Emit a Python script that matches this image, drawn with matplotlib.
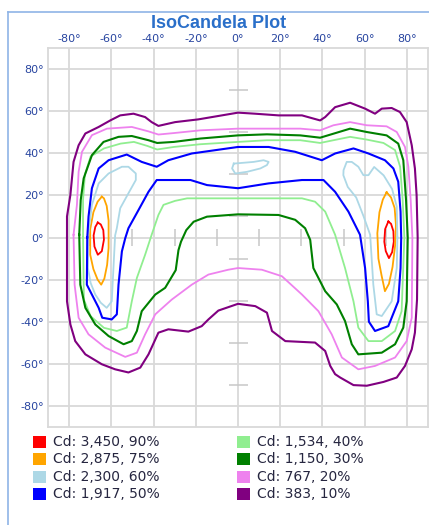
import numpy as np
import matplotlib
matplotlib.use("Agg")
import matplotlib.pyplot as plt
from matplotlib.patches import Rectangle
from matplotlib.lines import Line2D

# contour traces, (horizontal deg, vertical deg)
cd_3450_left = [(-66.4, 7.1), (-67.6, 5), (-68.4, 1), (-68, -4.3), (-66.4, -8.2), (-64.5, -6.5),
                (-63.5, -1), (-63.8, 3.5), (-65, 6.2)]
cd_3450_right = [(71.2, 7.6), (69.7, 4), (69.3, -2), (70, -6.5), (71.5, -9.8), (73, -7),
                 (73.8, -2), (73.6, 3), (72.5, 6.5)]

cd_2875_left = [(-64.5, 19.4), (-66.5, 17), (-68.5, 12), (-70, 4), (-70, -8.2), (-68.5, -15),
                (-66.5, -20), (-64.8, -22.4), (-63.3, -19.5), (-62, -13), (-61.3, -5), (-61.3, 8),
                (-62.2, 15), (-63.5, 18.6)]
cd_2875_right = [(70.4, 21.5), (68.6, 18), (67, 12), (66, 2), (66.5, -10), (68, -18), (69.6, -25.5),
                 (71.5, -22), (73.2, -14), (74.4, -4), (74.8, 6), (74.2, 14), (72.5, 19)]

cd_2300_left = [(-71.1, 0), (-69.2, 15.5), (-66, 25.7), (-61.3, 30.4), (-55, 33.6), (-51.9, 33.6),
                (-48.4, 30.4), (-48.4, 27.3), (-51.9, 21), (-55.8, 13.9), (-57.4, 4.4), (-58.2, 1),
                (-59, -14.5), (-59.8, -30.3), (-62.2, -33.4), (-65, -31), (-67.6, -27.1),
                (-69.8, -21.6), (-71.1, -14.5)]
cd_2300_mid = [(-2, 35.1), (-2.8, 32.8), (-1.3, 30.4), (4.3, 31.2), (10.6, 32.8), (13.7, 34.4),
               (14.5, 35.9), (12.1, 36.7), (7.4, 35.9), (2.7, 35.5)]
cd_2300_right = [(75.5, 0), (75.2, 14.7), (73, 23), (69, 29.5), (64.5, 33.5), (61.8, 29.6),
                 (59.4, 29.6), (57, 33.6), (53.9, 35.9), (51.5, 35.9), (50, 32), (49.9, 29.6),
                 (52, 24), (56, 19), (59.5, 10), (62.6, 1.3), (64.1, -22.4), (65.7, -36.5),
                 (68.1, -37.3), (72.8, -30.3), (75.2, -14.5)]

cd_1917 = [(-71.4, 0), (-70.8, 10), (-69.2, 23.4), (-66, 32.8), (-61.3, 36.7), (-52.7, 39.4),
           (-45.6, 35.9), (-38.5, 33.6), (-33, 36.7), (-21.9, 39.9), (0, 43), (14.5, 43),
           (27.1, 40.7), (39.7, 36.7), (46, 39.9), (54.7, 42.3), (61.8, 39.9), (69.6, 36.7),
           (73.6, 32.8), (75.9, 26.5), (77, 12.3), (77.3, 0), (77, -14.5), (75.9, -30.3),
           (71.2, -42.1), (64.9, -44.4), (62, -40), (61.5, -30.3), (60.2, -14.5), (57.8, 1.3),
           (52.3, 12.3), (46, 21.7), (40.5, 27.3), (30.3, 27.3), (14.5, 25.7), (0, 23.4),
           (-14.7, 24.9), (-22.5, 27.3), (-30.4, 27.3), (-38.5, 27.3), (-42.4, 21.7),
           (-47.1, 13.1), (-51.9, 4.4), (-53.4, -0.3), (-55, -6.6), (-56.6, -22.4), (-57.4, -36.5),
           (-59.8, -38.9), (-64.3, -38.1), (-66, -33.4), (-71.6, -22.4)]

cd_1534 = [(-73.4, 0), (-73.4, 17.8), (-72.5, 30), (-69.8, 38.5), (-63.5, 42.3), (-55.6, 44.6),
           (-49.3, 45.4), (-43, 43.5), (-38.3, 41.8), (-30.4, 43), (-17.8, 44.3), (0, 45.4),
           (13.7, 46.2), (29.5, 46.2), (38.9, 44.9), (45.2, 46.2), (53.1, 47.8), (61, 46.5),
           (68.9, 44.9), (74.4, 41.5), (76.8, 33.6), (78, 17.8), (78.8, 0), (77.5, -35),
           (74.4, -44.4), (68.1, -49.2), (61.8, -49.2), (57, -42.8), (54.7, -30.3), (50.7, -14.5),
           (46, 1.3), (41.3, 12.3), (36.5, 17), (30.3, 18.6), (0, 18.6), (-24.1, 18.6),
           (-29.8, 17.4), (-35.3, 15.5), (-37.7, 10.7), (-40.9, 1.3), (-44, -8.2), (-47.9, -19.2),
           (-50.3, -30.3), (-52.7, -42.8), (-57.4, -44.4), (-63.5, -42.9), (-69.8, -37.4),
           (-73, -29.5)]

cd_1150 = [(-75.2, 1.3), (-74.5, 17.8), (-73.1, 28.1), (-69.2, 39.1), (-63.7, 45.4), (-56.6, 47.8),
           (-50.3, 48.2), (-42.4, 46.2), (-38.3, 44.9), (-30.4, 45.4), (-17.8, 47), (0, 48.5),
           (13.7, 49), (29.5, 48.5), (38.9, 47.4), (45.2, 49.3), (53.1, 51.7), (61, 50.1),
           (70.4, 48.5), (75.9, 44.6), (78.3, 36.7), (79.6, 17.8), (80.4, 0), (79.9, -30.3),
           (78.3, -42.8), (74.4, -50.7), (68.1, -54.7), (57, -55.5), (53.9, -50.7), (50.7, -39.7),
           (46.8, -31.8), (41.3, -25.5), (35.7, -14.5), (34.2, -1.1), (31.8, 4.4), (27.1, 8.4),
           (19.2, 10.7), (0, 11), (-14.7, 9.9), (-21, 7.5), (-24.5, 3.5), (-27, -2),
           (-28.2, -6), (-29.5, -15.5), (-34.5, -23.9), (-39.2, -27.1), (-45.6, -35),
           (-47.9, -44.4), (-50.3, -49.2), (-54.2, -50.7), (-61.3, -46.8), (-67.6, -41.3),
           (-72.3, -33.4), (-74.7, -22.4)]

cd_767 = [(-77.9, 1.3), (-76.3, 15.5), (-75.5, 31.2), (-73.9, 40.7), (-69.2, 48.6), (-62.1, 51.7),
          (-50.3, 52.5), (-42.4, 50.4), (-37.7, 48.9), (-30.4, 49.6), (-17.8, 50.9), (0, 51.7),
          (13.7, 51.7), (29.5, 51.7), (38.9, 50.9), (45.2, 53.3), (53.1, 54.8), (61, 53.3),
          (70.4, 52.8), (75.2, 50.1), (79.1, 43), (80.7, 33.6), (81.8, 17.8), (82.6, 0),
          (82.3, -38.1), (79.9, -49.2), (74.4, -57), (64.9, -61), (57, -62.6), (49.2, -57),
          (44.4, -46), (38.1, -35), (30.3, -27.1), (20.8, -18.4), (11.3, -15.3), (0, -14.5),
          (-4.6, -15.3), (-14, -17.6), (-21.9, -22.4), (-31.4, -29.5), (-39.2, -36.5), (-44, -46),
          (-47.9, -54.7), (-53.4, -56.7), (-62.9, -52.3), (-70.8, -46), (-75.5, -38.1),
          (-77.4, -22.4)]

cd_383 = [(-81, 0), (-81, 10), (-79.4, 20.2), (-77.9, 35.9), (-75.5, 43.8), (-72.3, 49.4),
          (-66, 52.5), (-60.5, 55.6), (-55.8, 58), (-49.5, 58.8), (-44, 57.2), (-40.9, 54.8),
          (-37.7, 53), (-29.8, 54.8), (-18.8, 56.1), (0, 59.3), (8, 58.8), (19.2, 58), (30.3, 58),
          (38.9, 55.6), (41.3, 57.2), (46, 61.9), (53.1, 64), (60.2, 61.2), (64.9, 58.8),
          (68.1, 61.2), (72.8, 61.5), (76.7, 59.6), (79.9, 54.8), (82.3, 43.8), (83.8, 32.8),
          (84.6, 20.2), (85.1, 0), (84.8, -29.5), (83.8, -45.2), (82.3, -53.1), (79.1, -61),
          (75.2, -66.5), (68.9, -68.6), (61, -70.4), (54.7, -70.1), (48.4, -66.5), (46, -64.9),
          (43.7, -61), (41.3, -53.9), (36.5, -49.9), (22.4, -49.2), (16.1, -44.4), (13.7, -35.7),
          (8.2, -32.6), (0, -31.5), (-9.3, -34.7), (-14, -38.9), (-17.2, -42.1), (-23.5, -44.7),
          (-33, -43.6), (-37.7, -45.2), (-42.4, -55.5), (-46.3, -61.8), (-51.9, -64.1),
          (-58.2, -62.6), (-64.5, -60.2), (-72.3, -55.5), (-77.1, -49.2), (-79.4, -41.3),
          (-81, -30.3)]

legend_labels = ["Cd: 3,450, 90%", "Cd: 2,875, 75%", "Cd: 2,300, 60%", "Cd: 1,917, 50%",
                 "Cd: 1,534, 40%", "Cd: 1,150, 30%", "Cd: 767, 20%", "Cd: 383, 10%"]
level_colors = ["#FF0000", "#FFA500", "#ADD8E6", "#0000FF",
                "#90EE90", "#008000", "#EE82EE", "#800080"]
level_traces = [[cd_3450_left, cd_3450_right], [cd_2875_left, cd_2875_right],
                [cd_2300_left, cd_2300_mid, cd_2300_right], [cd_1917], [cd_1534],
                [cd_1150], [cd_767], [cd_383]]

major_ticks = [-80, -60, -40, -20, 0, 20, 40, 60, 80]
minor_ticks = [-70, -50, -30, -10, 10, 30, 50, 70]

W, H = 429, 525
fig = plt.figure(figsize=(W / 100, H / 100), dpi=100)
fig.patch.set_facecolor("white")

# outer frame (only left and top edges visible)
frame_col = "#8FB4E6"
fig.add_artist(Line2D([8 / W, 8 / W], [0, 1 - 12 / H], color=frame_col, lw=1.2))
fig.add_artist(Line2D([8 / W, 1], [1 - 12 / H, 1 - 12 / H], color=frame_col, lw=1.2))

ax = fig.add_axes([48 / W, 98 / H, 380 / W, 379 / H])
ax.set_xlim(-90, 90)
ax.set_ylim(-90, 90)

grid_col = "#D9D9D9"
for t in major_ticks:
    ax.axvline(t, color=grid_col, lw=1.3, zorder=0)
    ax.axhline(t, color=grid_col, lw=1.3, zorder=0)

# little crosshair ticks around the centre
ax.hlines(minor_ticks, -4.5, 4.5, color="#C8C8C8", lw=1.1, zorder=0)
ax.vlines(minor_ticks, -4, 4, color="#C8C8C8", lw=1.1, zorder=0)

widths = [1.3, 1.3, 1.3, 1.5, 1.3, 1.5, 1.3, 1.5]
for traces, col, lw in zip(level_traces, level_colors, widths):
    for tr in traces:
        pts = np.array(tr + [tr[0]])
        ax.plot(pts[:, 0], pts[:, 1], color=col, lw=lw, solid_joinstyle="round")

for s in ax.spines.values():
    s.set_color(grid_col)
    s.set_linewidth(1.3)

tick_col = "#2845A0"
ax.set_xticks(major_ticks)
ax.set_yticks(major_ticks)
ax.set_xticklabels([f"{t}\u00b0" for t in major_ticks])
ax.set_yticklabels([f"{t}\u00b0" for t in major_ticks])
ax.xaxis.tick_top()
ax.tick_params(axis="both", length=0, labelsize=8, labelcolor=tick_col, pad=3)

fig.text(219 / W, 1 - 23 / H, "IsoCandela Plot", ha="center", va="center",
         fontsize=13, fontweight="bold", color="#2A6FC9", family="Liberation Sans")

# legend, two columns of four
for i, (lab, col) in enumerate(zip(legend_labels, level_colors)):
    c, r = divmod(i, 4)
    x0 = [33, 237][c]
    yc = 442 + r * 17.3
    fig.add_artist(Rectangle((x0 / W, 1 - (yc + 6) / H), 13 / W, 12 / H,
                             transform=fig.transFigure, facecolor=col, edgecolor="none"))
    fig.text((x0 + 20) / W, 1 - yc / H, lab, ha="left", va="center",
             fontsize=10, color="#262640")

fig.savefig("out.png", dpi=100)
